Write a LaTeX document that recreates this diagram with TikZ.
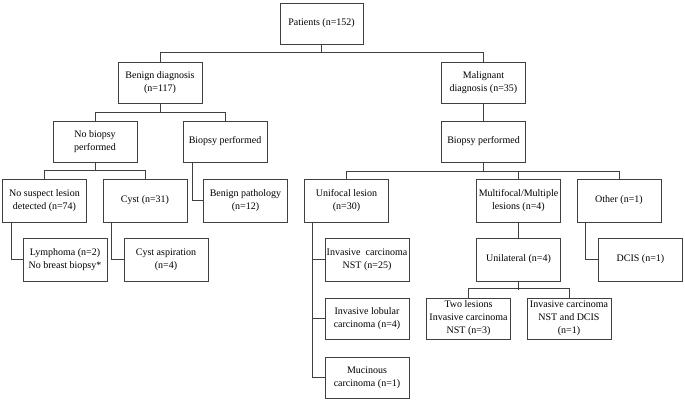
\documentclass[tikz,border=0pt]{standalone}
\usepackage{fontspec}
\setmainfont{Liberation Serif}
\tikzset{
    box/.style={draw=black!75, line width=0.8pt, minimum width=84pt, minimum height=41pt,
        inner sep=1pt, align=center, font=\fontsize{10}{13}\selectfont},
    tall/.style={minimum height=43pt},
    link/.style={draw=black!75, line width=0.8pt}
}
\begin{document}
\begin{tikzpicture}[x=1pt, y=1pt]
    \useasboundingbox (0,0) rectangle (685,-401);
    \node[box, minimum width=83pt] (pat) at (321.5,-23.5) {Patients (n=152)};
    \node[box] (ben) at (160,-82.5) {Benign diagnosis\\(n=117)};
    \node[box] (mal) at (483.5,-82.5) {Malignant\\diagnosis (n=35)};
    \node[box] (nob) at (95,-141.5) {No biopsy\\performed};
    \node[box] (bpb) at (225,-141.5) {Biopsy performed};
    \node[box] (bpm) at (483.5,-141.5) {Biopsy performed};
    \node[box, tall] (nsl) at (44.5,-200.5) {No suspect lesion\\detected (n=74)};
    \node[box, tall] (cyst) at (145,-200.5) {Cyst (n=31)};
    \node[box, tall] (benp) at (245.5,-200.5) {Benign pathology\\(n=12)};
    \node[box, tall] (uni) at (346.5,-200.5) {Unifocal lesion\\(n=30)};
    \node[box, tall] (mul) at (518.5,-200.5) {Multifocal/Multiple\\lesions (n=4)};
    \node[box, tall] (oth) at (619,-200.5) {Other (n=1)};
    \node[box, tall] (lym) at (65,-259.5) {Lymphoma (n=2)\\No breast biopsy*};
    \node[box, tall] (cya) at (166,-259.5) {Cyst aspiration\\(n=4)};
    \node[box, tall] (inst) at (367,-259.5) {Invasive\ \ carcinoma\\NST (n=25)};
    \node[box, tall] (unil) at (518.5,-259.5) {Unilateral (n=4)};
    \node[box, tall] (dcis) at (640.5,-259.5) {DCIS (n=1)};
    \node[box] (ilc) at (367,-318.5) {Invasive lobular\\carcinoma (n=4)};
    \node[box] (two) at (468.5,-318.5) {Two lesions\\Invasive carcinoma\\NST (n=3)};
    \node[box] (icd) at (569,-318.5) {Invasive carcinoma\\NST and DCIS\\(n=1)};
    \node[box] (muc) at (367,-377.5) {Mucinous\\carcinoma (n=1)};
    \draw[link] (ben.north) -- ++(0,9) -| (mal.north);
    \draw[link] (pat.south) -- ++(0,-9);
    \draw[link] (nob.north) -- ++(0,8.5) -| (bpb.north);
    \draw[link] (ben.south) -- ++(0,-9.5);
    \draw[link] (nsl.north) -- ++(0,8) -| (cyst.north);
    \draw[link] (nob.south) -- ++(0,-9);
    \draw[link] (mal) -- (bpm);
    \draw[link] (uni.north) -- ++(0,7) -| (oth.north);
    \draw[link] (bpm.south) -- ++(0,-10);
    \draw[link] (mul.north) -- ++(0,7);
    \draw[link] (mul) -- (unil);
    \draw[link] (two.north) -- ++(0,9) -| (icd.north);
    \draw[link] (unil.south) -- ++(0,-9);
    \draw[link] ([xshift=9.5pt]bpb.south west) |- (benp.west);
    \draw[link] ([xshift=9pt]nsl.south west) |- (lym.west);
    \draw[link] ([xshift=9pt]cyst.south west) |- (cya.west);
    \draw[link] ([xshift=8.5pt]uni.south west) |- (inst.west);
    \draw[link] ([xshift=8.5pt]uni.south west) |- (ilc.west);
    \draw[link] ([xshift=8.5pt]uni.south west) |- (muc.west);
    \draw[link] ([xshift=9pt]oth.south west) |- (dcis.west);
\end{tikzpicture}
\end{document}
